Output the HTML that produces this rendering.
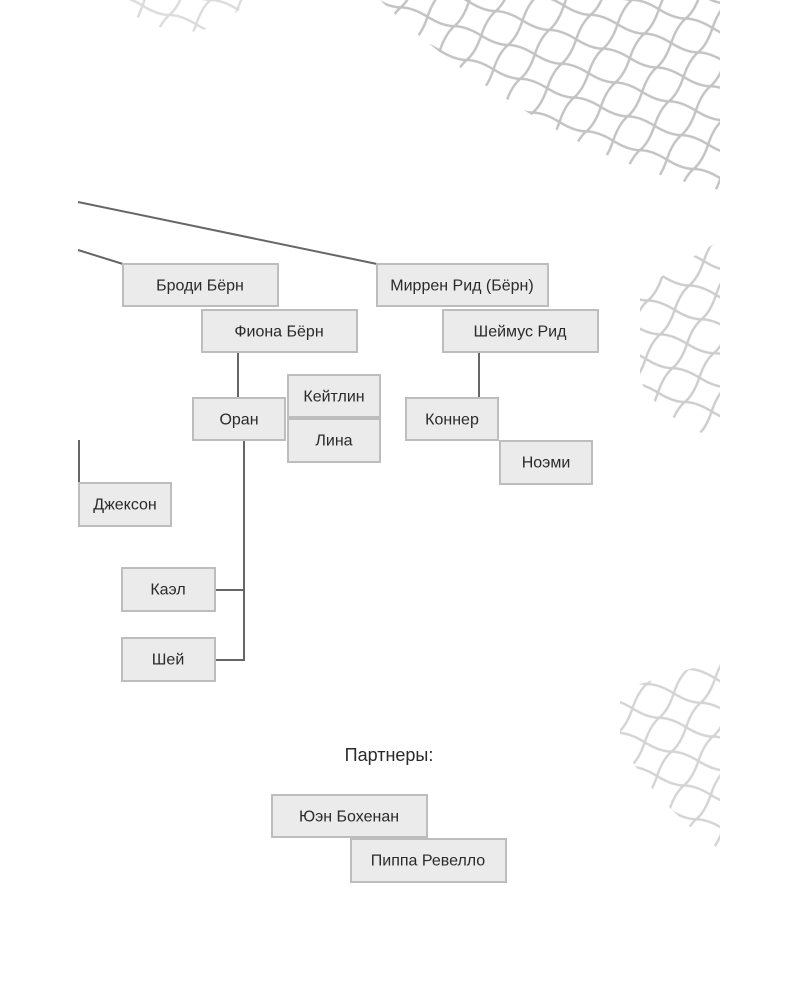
<!DOCTYPE html>
<html><head><meta charset="utf-8"><style>
html,body{margin:0;padding:0;background:#fff;}
svg{display:block}
text{font-family:"Liberation Sans","DejaVu Sans",sans-serif;font-size:16px;fill:#2a2a2a;text-anchor:middle;dominant-baseline:central}
.b{fill:#ebebeb;stroke:#bdbdbd;stroke-width:2}
.l{stroke:#666;stroke-width:2;fill:none}
</style></head><body>
<svg width="800" height="1000" viewBox="0 0 800 1000">
<defs>
<pattern id="sc" width="44" height="36" patternUnits="userSpaceOnUse" patternTransform="rotate(-20)">
<path d="M0 18 Q11 4 22 0 M22 0 Q33 4 44 18 M0 18 Q11 32 22 36 M22 36 Q33 32 44 18" fill="none" stroke="#b8b8b8" stroke-width="2.5"/>
</pattern>
</defs>
<path d="M380 0 L720 0 L720 190 Q620 170 540 120 Q440 60 380 0Z" fill="url(#sc)" opacity="0.85"/>
<path d="M120 0 L250 0 Q210 40 170 30 Q130 20 120 0Z" fill="url(#sc)" opacity="0.5"/>
<path d="M640 290 L720 240 L720 440 Q660 420 640 380Z" fill="url(#sc)" opacity="0.7"/>
<path d="M620 690 L720 660 L720 850 Q650 800 620 740Z" fill="url(#sc)" opacity="0.6"/>

<line class="l" x1="78" y1="202" x2="377" y2="264"/>
<line class="l" x1="78" y1="250" x2="123" y2="264"/>
<line class="l" x1="238" y1="352" x2="238" y2="398"/>
<line class="l" x1="479" y1="352" x2="479" y2="398"/>
<line class="l" x1="79" y1="440" x2="79" y2="483"/>
<polyline class="l" points="244,440 244,660 215,660"/>
<line class="l" x1="215" y1="590" x2="244" y2="590"/>

<rect class="b" x="123" y="264" width="155" height="42"/><text x="200" y="286">Броди Бёрн</text>
<rect class="b" x="377" y="264" width="171" height="42"/><text x="462" y="286">Миррен Рид (Бёрн)</text>
<rect class="b" x="202" y="310" width="155" height="42"/><text x="279" y="332">Фиона Бёрн</text>
<rect class="b" x="443" y="310" width="155" height="42"/><text x="520" y="332">Шеймус Рид</text>
<rect class="b" x="193" y="398" width="92" height="42"/><text x="239" y="420">Оран</text>
<rect class="b" x="288" y="375" width="92" height="42"/><text x="334" y="397">Кейтлин</text>
<rect class="b" x="288" y="419" width="92" height="43"/><text x="334" y="441">Лина</text>
<rect class="b" x="406" y="398" width="92" height="42"/><text x="452" y="420">Коннер</text>
<rect class="b" x="500" y="441" width="92" height="43"/><text x="546" y="463">Ноэми</text>
<rect class="b" x="79" y="483" width="92" height="43"/><text x="125" y="505">Джексон</text>
<rect class="b" x="122" y="568" width="93" height="43"/><text x="168" y="590">Каэл</text>
<rect class="b" x="122" y="638" width="93" height="43"/><text x="168" y="660">Шей</text>
<text x="389" y="755" style="font-size:18px">Партнеры:</text>
<rect class="b" x="272" y="795" width="155" height="42"/><text x="349" y="817">Юэн Бохенан</text>
<rect class="b" x="351" y="839" width="155" height="43"/><text x="428" y="861">Пиппа Ревелло</text>
</svg>
</body></html>
